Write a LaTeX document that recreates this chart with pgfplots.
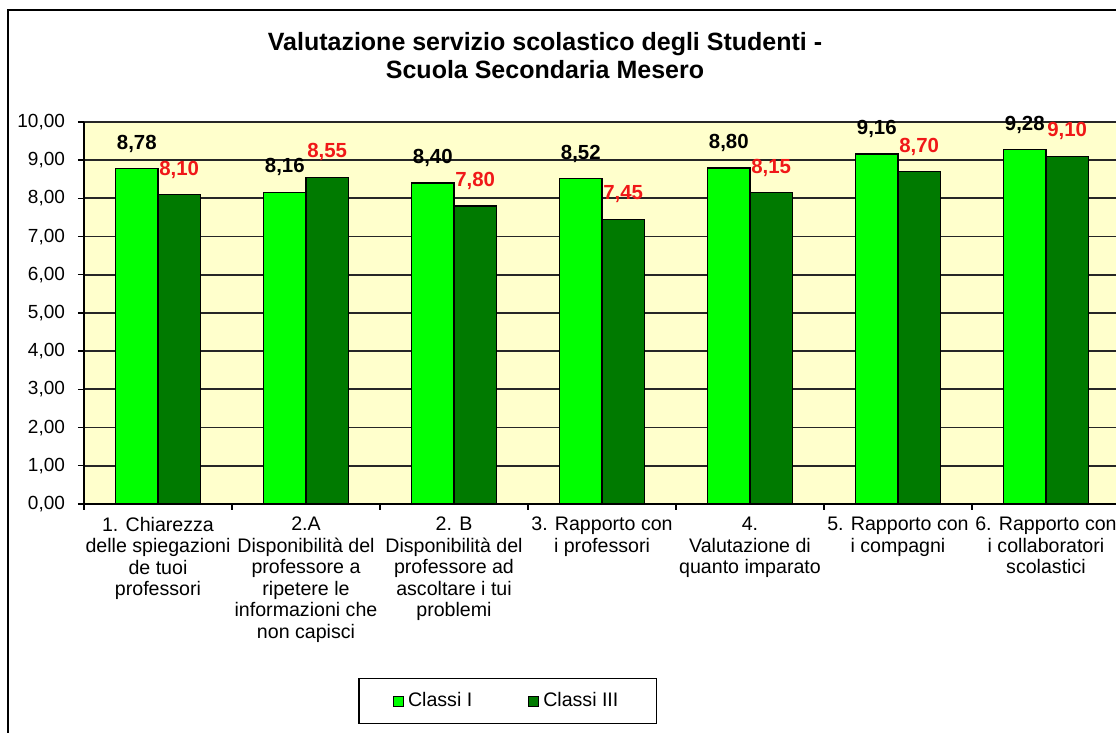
\documentclass[border=0pt]{standalone}
\usepackage{pgfplots}
\pgfplotsset{compat=1.18}
\usepackage{fontspec}
\setmainfont{Liberation Sans}

\definecolor{lightg}{HTML}{00FF00}
\definecolor{darkg}{HTML}{007A00}
\definecolor{cream}{HTML}{FFFFCC}
\definecolor{lblred}{HTML}{F01818}

\begin{document}
\begin{tikzpicture}[x=0.5pt,y=0.5pt]
% page frame (1 px = 0.5pt)
\useasboundingbox[fill=white] (0,0) rectangle (1116,733);
\draw[line width=1pt] (8,0) -- (8,723) -- (1120,723);

\node[font=\bfseries\fontsize{12.5}{14}\selectfont, align=center] at (545,677)
  {Valutazione servizio scolastico degli Studenti -\\Scuola Secondaria Mesero};

\begin{axis}[
    at={(42pt,114.5pt)}, anchor=south west,
    scale only axis,
    width=518pt, height=191pt,
    xmin=-0.5, xmax=6.5,
    ymin=0, ymax=10,
    axis lines*=left,
    axis line style={black, line width=0.8pt},
    axis background/.style={fill=cream},
    ytick={0,1,...,10},
    ymajorgrids,
    grid style={black!85, line width=0.9pt},
    /pgf/number format/assume math mode=true,
    /pgf/number format/.cd, fixed, fixed zerofill, precision=2, use comma,
    /pgfplots/.cd,
    yticklabel style={font=\fontsize{9.5}{11}\selectfont, xshift=-3pt},
    tick align=outside,
    major tick length=3pt,
    tick style={black, line width=0.7pt},
    xtick={-0.5,0.5,...,6.5},
    xticklabels={},
    extra x ticks={0,1,2,3,4,5,6},
    extra x tick style={major tick length=0pt},
    extra x tick labels={
        {1. Chiarezza\\delle spiegazioni\\de tuoi\\professori},
        {2.A\\Disponibilità del\\professore a\\ripetere le\\informazioni che\\non capisci},
        {2. B\\Disponibilità del\\professore ad\\ascoltare i tui\\problemi},
        {3. Rapporto con\\i professori},
        {4.\\Valutazione di\\quanto imparato},
        {5. Rapporto con\\i compagni},
        {6. Rapporto con\\i collaboratori\\scolastici}},
    xticklabel style={font=\fontsize{9.8}{10.75}\selectfont, align=center, yshift=-3pt},
    nodes near coords,
    every node near coord/.append style={font=\bfseries\fontsize{10.2}{12}\selectfont, anchor=center, yshift=12.5pt},
    legend style={at={(0.409,-0.516)}, anchor=center, draw=black, line width=0.6pt,
        font=\fontsize{9.8}{11}\selectfont, legend columns=2,
        inner xsep=17pt, inner ysep=5pt,
        /tikz/every even column/.append style={column sep=26pt}},
    legend image code/.code={\draw[#1, line width=0.5pt] (0pt,-2.5pt) rectangle (5pt,2.5pt);},
]
\addplot[ybar, bar width=21.25pt, bar shift=-10.6pt, fill=lightg, draw=black, line width=0.7pt,
    every node near coord/.append style={text=black, xshift=-10.6pt}]
coordinates {(0,8.78) (1,8.16) (2,8.40) (3,8.52) (4,8.80) (5,9.16) (6,9.28)};
\addlegendentry{Classi I}

\addplot[ybar, bar width=21.25pt, bar shift=10.6pt, fill=darkg, draw=black, line width=0.7pt,
    every node near coord/.append style={text=lblred, xshift=10.6pt}]
coordinates {(0,8.10) (1,8.55) (2,7.80) (3,7.45) (4,8.15) (5,8.70) (6,9.10)};
\addlegendentry{Classi III}
\end{axis}
\end{tikzpicture}
\end{document}
